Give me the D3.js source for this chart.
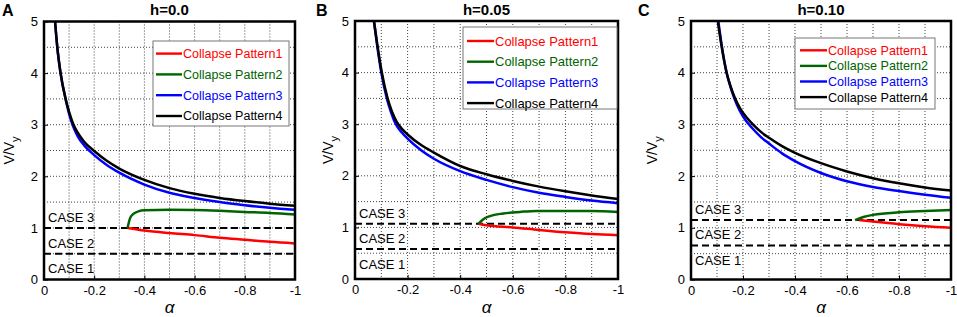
<!DOCTYPE html>
<html>
<head>
<meta charset="utf-8">
<script src="https://cdn.jsdelivr.net/npm/d3@7"></script>
<style>
  body { margin: 0; background: #fff; }
  svg { display: block; font-family: "Liberation Sans", Arial, sans-serif; }
</style>
</head>
<body>
<div id="chart"></div>
<script>
// tick labels and names
const alphaTicks = [0, -0.2, -0.4, -0.6, -0.8, -1];
const ratioTicks = [0, 1, 2, 3, 4, 5];
const seriesNames = ['Collapse Pattern1', 'Collapse Pattern2', 'Collapse Pattern3', 'Collapse Pattern4'];
const seriesColors = ['#ff0000', '#006400', '#0000ff', '#000000'];
const panelTitles = ['h=0.0', 'h=0.05', 'h=0.10'];
const panelLetters = ['A', 'B', 'C'];
const caseNames = ['CASE 3', 'CASE 2', 'CASE 1'];

// dashed case boundaries [upper, lower] for each h
const caseBounds = [[1.0, 0.5], [1.07, 0.58], [1.15, 0.66]];

// [alpha, V/Vy]
const pattern1_h0 = [[-0.333, 1.0], [-0.4, 0.95], [-0.5, 0.9], [-0.6, 0.86], [-0.7, 0.81], [-0.8, 0.77], [-0.9, 0.73], [-1, 0.7]];
const pattern2_h0 = [[-0.333, 1.0], [-0.343, 1.19], [-0.356, 1.27], [-0.376, 1.32], [-0.4, 1.34], [-0.5, 1.35], [-0.6, 1.345], [-0.7, 1.33], [-0.8, 1.31], [-0.9, 1.29], [-1, 1.26]];
const pattern3_h0 = [[-0.044, 5], [-0.053, 4.5], [-0.066, 4.0], [-0.087, 3.48], [-0.1, 3.21], [-0.116, 2.97], [-0.135, 2.77], [-0.16, 2.6], [-0.2, 2.41], [-0.25, 2.22], [-0.3, 2.07], [-0.4, 1.84], [-0.5, 1.68], [-0.6, 1.58], [-0.7, 1.5], [-0.8, 1.44], [-0.9, 1.39], [-1, 1.35]];
const pattern4_h0 = [[-0.044, 5], [-0.053, 4.5], [-0.066, 4.0], [-0.086, 3.5], [-0.1, 3.25], [-0.116, 3.02], [-0.135, 2.84], [-0.16, 2.67], [-0.2, 2.49], [-0.25, 2.3], [-0.3, 2.15], [-0.4, 1.93], [-0.5, 1.77], [-0.6, 1.66], [-0.7, 1.58], [-0.8, 1.52], [-0.9, 1.47], [-1, 1.43]];

const pattern1_h05 = [[-0.469, 1.07], [-0.5, 1.04], [-0.6, 1.0], [-0.7, 0.95], [-0.8, 0.905], [-0.9, 0.87], [-1, 0.85]];
const pattern2_h05 = [[-0.469, 1.07], [-0.488, 1.16], [-0.513, 1.22], [-0.564, 1.27], [-0.627, 1.3], [-0.69, 1.32], [-0.8, 1.32], [-0.9, 1.32], [-1, 1.3]];
const pattern3_h05 = [[-0.072, 5], [-0.085, 4.5], [-0.1, 4.0], [-0.121, 3.5], [-0.137, 3.23], [-0.155, 3.0], [-0.178, 2.84], [-0.2, 2.72], [-0.25, 2.5], [-0.3, 2.33], [-0.4, 2.09], [-0.5, 1.92], [-0.6, 1.78], [-0.7, 1.67], [-0.8, 1.59], [-0.9, 1.52], [-1, 1.47]];
const pattern4_h05 = [[-0.072, 5], [-0.086, 4.5], [-0.102, 4.0], [-0.124, 3.5], [-0.14, 3.25], [-0.158, 3.05], [-0.18, 2.9], [-0.2, 2.8], [-0.25, 2.6], [-0.3, 2.45], [-0.4, 2.19], [-0.5, 2.03], [-0.6, 1.9], [-0.7, 1.79], [-0.8, 1.7], [-0.9, 1.62], [-1, 1.55]];

const pattern1_h10 = [[-0.645, 1.15], [-0.7, 1.12], [-0.8, 1.07], [-0.9, 1.03], [-1, 1.0]];
const pattern2_h10 = [[-0.631, 1.15], [-0.663, 1.21], [-0.7, 1.25], [-0.8, 1.3], [-0.9, 1.325], [-1, 1.345]];
const pattern3_h10 = [[-0.105, 5], [-0.119, 4.5], [-0.137, 4.0], [-0.152, 3.72], [-0.167, 3.5], [-0.187, 3.27], [-0.21, 3.08], [-0.235, 2.93], [-0.27, 2.75], [-0.3, 2.63], [-0.35, 2.44], [-0.4, 2.29], [-0.5, 2.06], [-0.6, 1.9], [-0.7, 1.79], [-0.8, 1.71], [-0.9, 1.64], [-1, 1.58]];
const pattern4_h10 = [[-0.103, 5], [-0.118, 4.5], [-0.137, 4.0], [-0.152, 3.74], [-0.169, 3.51], [-0.19, 3.3], [-0.215, 3.13], [-0.24, 2.99], [-0.27, 2.85], [-0.3, 2.74], [-0.35, 2.58], [-0.4, 2.45], [-0.5, 2.25], [-0.6, 2.09], [-0.7, 1.96], [-0.8, 1.86], [-0.9, 1.78], [-1, 1.72]];

const panelSeries = [
  [pattern1_h0, pattern2_h0, pattern3_h0, pattern4_h0],
  [pattern1_h05, pattern2_h05, pattern3_h05, pattern4_h05],
  [pattern1_h10, pattern2_h10, pattern3_h10, pattern4_h10],
];

// layout of each panel (pixels)
const layout = [
  { left: 44, right: 295, top: 21.5, bottom: 279.5, letterX: 2, ylabX: 9,
    legend: { x: 153, y: 41, w: 136, h: 85, pad: 3, first: 12.6, row: 20.8, line: 26, font: 12.5 } },
  { left: 355, right: 618, top: 21, bottom: 279, letterX: 316, ylabX: 328,
    legend: { x: 463, y: 27, w: 154, h: 82, pad: 4, first: 14, row: 20.7, line: 27, font: 13 } },
  { left: 691, right: 951, top: 21, bottom: 279.5, letterX: 638, ylabX: 652,
    legend: { x: 795, y: 38, w: 140, h: 71, pad: 5, first: 12.3, row: 15.6, line: 27, font: 12.6 } },
];

const svg = d3.select('#chart').append('svg')
  .attr('width', 957)
  .attr('height', 317);

layout.forEach((L, i) => {
  const x = d3.scaleLinear().domain([0, -1]).range([L.left, L.right]);
  const y = d3.scaleLinear().domain([0, 5]).range([L.bottom, L.top]);
  const g = svg.append('g');

  // dotted grid
  g.append('g').selectAll('line').data(x.ticks(10)).join('line')
    .attr('x1', d => x(d)).attr('x2', d => x(d))
    .attr('y1', L.top).attr('y2', L.bottom)
    .attr('stroke', '#444').attr('stroke-width', 1).attr('stroke-dasharray', '1,2');
  g.append('g').selectAll('line').data(y.ticks(10)).join('line')
    .attr('x1', L.left).attr('x2', L.right)
    .attr('y1', d => y(d)).attr('y2', d => y(d))
    .attr('stroke', '#444').attr('stroke-width', 1).attr('stroke-dasharray', '1,2');

  // case boundaries
  g.append('g').selectAll('line').data(caseBounds[i]).join('line')
    .attr('x1', L.left).attr('x2', L.right)
    .attr('y1', d => y(d)).attr('y2', d => y(d))
    .attr('stroke', '#000').attr('stroke-width', 2).attr('stroke-dasharray', '7,4');

  const [upper, lower] = caseBounds[i];
  const casePos = [upper + 0.12, lower + 0.12, lower - 0.38];
  g.append('g').selectAll('text').data(caseNames).join('text')
    .attr('x', L.left + 4)
    .attr('y', (d, k) => y(casePos[k]))
    .attr('font-size', 13)
    .attr('fill', '#000')
    .text(d => d);

  // curves
  const line = d3.line()
    .x(d => x(d[0]))
    .y(d => y(d[1]))
    .curve(d3.curveMonotoneX);
  g.append('g').selectAll('path').data(panelSeries[i]).join('path')
    .attr('d', line)
    .attr('fill', 'none')
    .attr('stroke', (d, k) => seriesColors[k])
    .attr('stroke-width', 2.5);

  // axes
  g.append('g')
    .attr('transform', `translate(0,${L.bottom})`)
    .call(d3.axisBottom(x).tickValues(alphaTicks).tickSize(-4).tickPadding(6).tickFormat(d => String(d)))
    .call(a => a.select('.domain').remove())
    .call(a => a.selectAll('text').attr('font-size', 13).attr('fill', '#000').attr('font-family', null));
  g.append('g')
    .attr('transform', `translate(${L.left},0)`)
    .call(d3.axisLeft(y).tickValues(ratioTicks).tickSize(-4).tickPadding(6).tickFormat(d => String(d)))
    .call(a => a.select('.domain').remove())
    .call(a => a.selectAll('text').attr('font-size', 13).attr('fill', '#000').attr('font-family', null));

  // frame
  g.append('rect')
    .attr('x', L.left).attr('y', L.top)
    .attr('width', L.right - L.left).attr('height', L.bottom - L.top)
    .attr('fill', 'none').attr('stroke', '#000').attr('stroke-width', 2.5);

  // legend
  const lg = L.legend;
  const leg = g.append('g').attr('transform', `translate(${lg.x},${lg.y})`);
  leg.append('rect')
    .attr('width', lg.w).attr('height', lg.h)
    .attr('fill', '#fff').attr('stroke', '#777').attr('stroke-width', 1);
  const rows = leg.selectAll('g.row').data(seriesNames).join('g')
    .attr('class', 'row')
    .attr('transform', (d, k) => `translate(${lg.pad},${lg.first + k * lg.row})`);
  rows.append('line')
    .attr('x1', 0).attr('x2', lg.line)
    .attr('stroke', (d, k) => seriesColors[k]).attr('stroke-width', 2.4);
  rows.append('text')
    .attr('x', lg.line + 1).attr('dy', '0.35em')
    .attr('font-size', lg.font)
    .attr('fill', (d, k) => seriesColors[k])
    .text(d => d);

  // titles and labels
  svg.append('text')
    .attr('x', (L.left + L.right) / 2).attr('y', 15)
    .attr('text-anchor', 'middle').attr('font-size', 15).attr('font-weight', 'bold')
    .text(panelTitles[i]);
  svg.append('text')
    .attr('x', L.letterX).attr('y', 16)
    .attr('font-size', 16).attr('font-weight', 'bold')
    .text(panelLetters[i]);
  svg.append('text')
    .attr('x', (L.left + L.right) / 2).attr('y', 313)
    .attr('text-anchor', 'middle').attr('font-size', 17).attr('font-style', 'italic')
    .text('α');
  const yl = svg.append('text')
    .attr('transform', `translate(${L.ylabX + 5},${(L.top + L.bottom) / 2}) rotate(-90)`)
    .attr('text-anchor', 'middle').attr('font-size', 14);
  yl.append('tspan').text('V/V');
  yl.append('tspan').attr('font-size', 11).attr('dy', 5).text('y');
});
</script>
</body>
</html>
